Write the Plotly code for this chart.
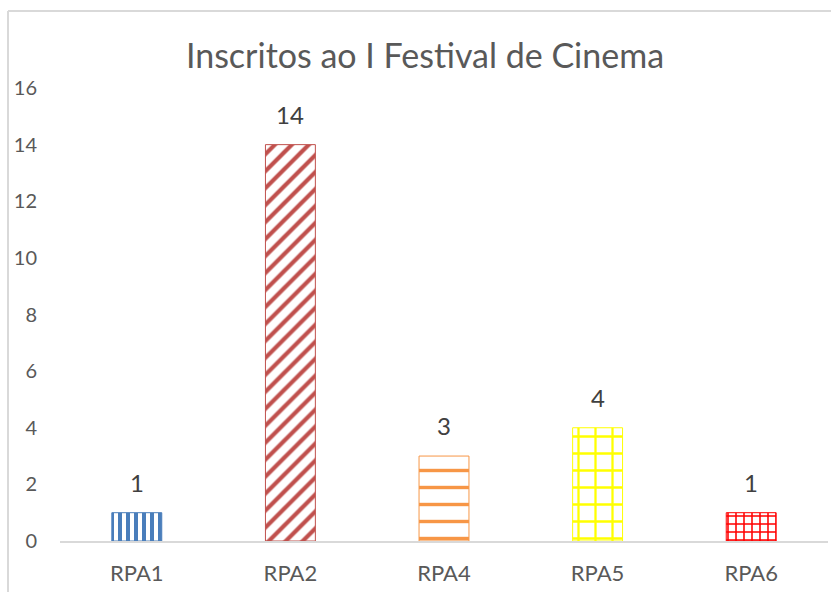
import plotly.graph_objects as go

# Registrations per region
categories = ["RPA1", "RPA2", "RPA4", "RPA5", "RPA6"]
inscritos = [1, 14, 3, 4, 1]

bar_colors = ["#4A7EBB", "#C0504D", "#F79646", "#FFFF00", "#FF0000"]
pattern_shapes = ["|", "/", "-", "+", "+"]
pattern_sizes = [8, 12, 17, 17, 8]
pattern_solidity = [0.5, 0.35, 0.2, 0.25, 0.35]

FONT = "Lato, Open Sans, sans-serif"
W, H = 831, 592
L, R, T, B = 60, 3, 88, 51
plot_w = W - L - R
plot_h = H - T - B


def px_x(x):
    return (x - L) / plot_w


def px_y(y):
    return (H - B - y) / plot_h


fig = go.Figure()
fig.add_trace(go.Bar(
    x=categories,
    y=inscritos,
    marker=dict(
        color="white",
        line=dict(color=bar_colors, width=1),
        pattern=dict(
            shape=pattern_shapes,
            fgcolor=bar_colors,
            bgcolor="white",
            size=pattern_sizes,
            solidity=pattern_solidity,
            fillmode="replace",
        ),
    ),
    hoverinfo="skip",
))

# value labels above each bar
for cat, val in zip(categories, inscritos):
    fig.add_annotation(
        x=cat, y=val, text=str(val), showarrow=False,
        yanchor="bottom", yshift=14,
        font=dict(family=FONT, size=24, color="#404040"),
    )

fig.update_layout(
    width=W,
    height=H,
    margin=dict(l=L, r=R, t=T, b=B, autoexpand=False),
    paper_bgcolor="white",
    plot_bgcolor="white",
    bargap=0.675,
    showlegend=False,
    title=dict(
        text="Inscritos ao I Festival de Cinema",
        x=px_x(425), xref="paper", xanchor="center",
        y=1 - 56 / H, yref="container", yanchor="middle",
        font=dict(family=FONT, size=34, color="#595959"),
    ),
    font=dict(family=FONT, color="#595959"),
    xaxis=dict(
        showline=True, linecolor="#D9D9D9", linewidth=2,
        showgrid=False, ticks="", automargin=False,
        tickfont=dict(size=22, color="#595959"),
        ticklabelstandoff=12,
        range=[-0.5, 4.5],
    ),
    yaxis=dict(
        range=[0, 16], dtick=2, showgrid=False, zeroline=False,
        showline=False, ticks="", automargin=False,
        tickfont=dict(size=20, color="#595959"),
        ticklabelstandoff=22,
    ),
    shapes=[
        dict(type="line", xref="paper", yref="paper",
             x0=px_x(8), x1=px_x(8), y0=px_y(11), y1=px_y(600),
             line=dict(color="#D9D9D9", width=2)),
        dict(type="line", xref="paper", yref="paper",
             x0=px_x(8), x1=px_x(840), y0=px_y(11), y1=px_y(11),
             line=dict(color="#D9D9D9", width=2)),
    ],
)

fig.write_html("out.html")
